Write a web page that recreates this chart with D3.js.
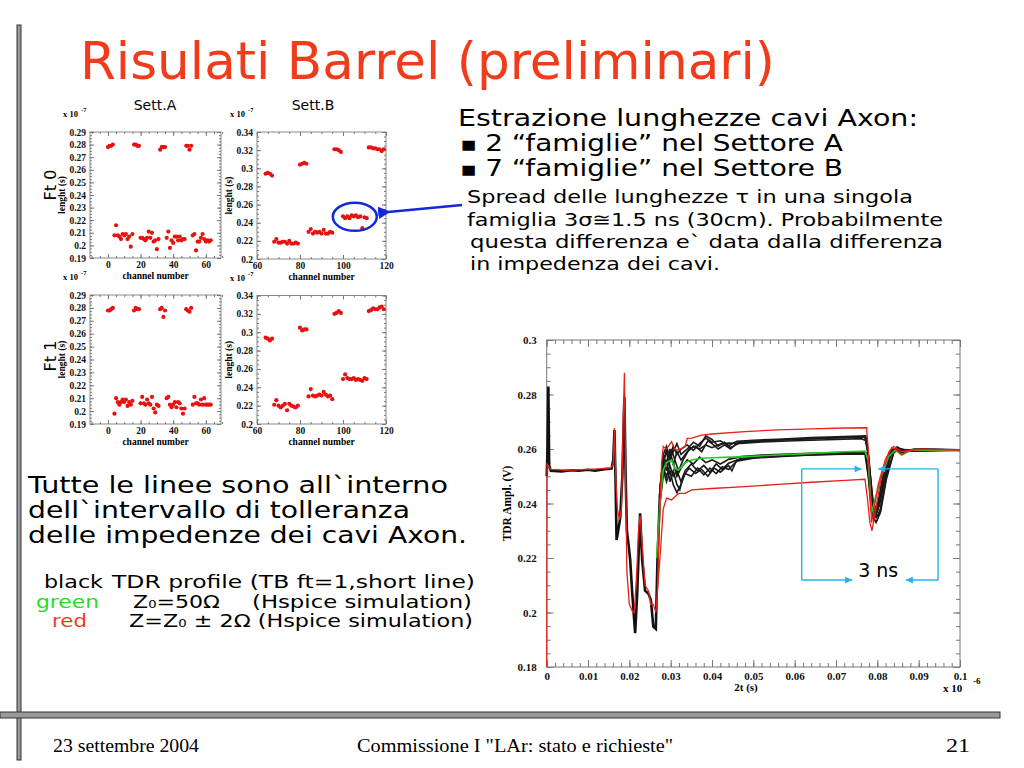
<!DOCTYPE html>
<html>
<head>
<meta charset="utf-8">
<script src="https://cdn.jsdelivr.net/npm/d3@7"></script>
<style>
  body { margin: 0; background: #fff; }
  .tick line { stroke: #777; }
  .tick text { font-family: 'Liberation Serif', serif; font-weight: bold; fill: #111; }
</style>
</head>
<body>
<svg id="svg" width="1024" height="768"></svg>
<script>
// ---- channel scans (x 10^-7 s) ----
const channelsA = d3.range(0, 64)
const channelsB = d3.range(64, 120)

const lenA_ft0 = [0.278, 0.279, 0.279, 0.280,
  0.208, 0.216, 0.208, 0.207, 0.205, 0.209, 0.208, 0.209, 0.205, 0.207, 0.199, 0.209,
  0.280, 0.280, 0.279, 0.279,
  0.206, 0.206, 0.205, 0.204, 0.206, 0.211, 0.206, 0.210, 0.203, 0.204, 0.197, 0.205,
  0.276, 0.278, 0.278, 0.278,
  0.206, 0.211, 0.198, 0.204, 0.202, 0.207, 0.207, 0.204, 0.207, 0.204, 0.205, 0.205,
  0.279, 0.279, 0.276, 0.279,
  0.208, 0.209, 0.196, 0.203, 0.203, 0.206, 0.209, 0.205, 0.203, 0.204, 0.203, 0.204]

const lenA_ft1 = [0.278, 0.278, 0.279, 0.280,
  0.198, 0.210, 0.207, 0.205, 0.207, 0.209, 0.207, 0.209, 0.204, 0.207, 0.205, 0.208,
  0.278, 0.280, 0.279, 0.279,
  0.206, 0.211, 0.206, 0.205, 0.209, 0.206, 0.205, 0.211, 0.202, 0.199, 0.205, 0.204,
  0.279, 0.280, 0.273, 0.278,
  0.210, 0.211, 0.205, 0.203, 0.205, 0.207, 0.203, 0.207, 0.206, 0.202, 0.198, 0.202,
  0.279, 0.278, 0.277, 0.280,
  0.205, 0.211, 0.206, 0.206, 0.205, 0.209, 0.205, 0.210, 0.205, 0.205, 0.205, 0.205]

const lenB_ft0 = [0.294, 0.295, 0.294, 0.292,
  0.219, 0.222, 0.218, 0.218, 0.219, 0.219, 0.217, 0.220, 0.217, 0.217, 0.218, 0.217,
  0.304, 0.305, 0.306, 0.305,
  0.230, 0.233, 0.228, 0.230, 0.229, 0.230, 0.228, 0.232, 0.228, 0.228, 0.230, 0.229,
  0.321, 0.321, 0.320, 0.318,
  0.247, 0.245, 0.247, 0.245, 0.248, 0.247, 0.248, 0.246, 0.247, 0.234, 0.246, 0.245,
  0.323, 0.323, 0.322, 0.322, 0.321, 0.321, 0.319, 0.321]

const lenB_ft1 = [0.294, 0.293, 0.291, 0.293,
  0.221, 0.226, 0.220, 0.218, 0.220, 0.222, 0.215, 0.222, 0.220, 0.219, 0.218, 0.220,
  0.305, 0.302, 0.303, 0.303,
  0.230, 0.238, 0.231, 0.230, 0.231, 0.232, 0.231, 0.235, 0.232, 0.230, 0.231, 0.227,
  0.320, 0.321, 0.323, 0.321,
  0.249, 0.254, 0.250, 0.249, 0.249, 0.250, 0.248, 0.249, 0.248, 0.247, 0.250, 0.249,
  0.323, 0.324, 0.326, 0.325, 0.325, 0.327, 0.328, 0.325]

const yTicksA = [0.19, 0.2, 0.21, 0.22, 0.23, 0.24, 0.25, 0.26, 0.27, 0.28, 0.29]
const yTicksB = [0.2, 0.22, 0.24, 0.26, 0.28, 0.3, 0.32, 0.34]
const xTicksA = [0, 20, 40, 60]
const xTicksB = [60, 80, 100, 120]

// ---- TDR profiles [2t (x 10^-6 s), ampl (V)] ----
const tdrBlackFront = [[0, 0.2500], [0.0002, 0.2600], [0.0004, 0.2829], [0.0006, 0.2540], [0.0010, 0.2520],
  [0.0036, 0.2518], [0.0060, 0.2522], [0.0077, 0.2520], [0.0100, 0.2524], [0.0117, 0.2520], [0.0140, 0.2526],
  [0.0157, 0.2528], [0.0161, 0.2560], [0.0164, 0.2670], [0.0167, 0.2450], [0.0169, 0.2266], [0.0173, 0.2300],
  [0.0178, 0.2350], [0.0183, 0.2500], [0.0188, 0.2792], [0.0191, 0.2500], [0.0194, 0.2300], [0.0198, 0.2250],
  [0.0202, 0.2193], [0.0207, 0.2070], [0.0214, 0.1924], [0.0219, 0.2070], [0.0226, 0.2364], [0.0231, 0.2193],
  [0.0238, 0.2080], [0.0246, 0.2070], [0.0252, 0.2046], [0.0258, 0.1948], [0.0264, 0.1940], [0.0268, 0.2193],
  [0.0274, 0.2437]]

const tdrBlack1 = [[0.0274, 0.2437], [0.0282, 0.2560], [0.0290, 0.2590], [0.0296, 0.2540], [0.0302, 0.2600],
  [0.0310, 0.2560], [0.0319, 0.2520], [0.0330, 0.2560], [0.0345, 0.2600], [0.0360, 0.2610], [0.0375, 0.2590],
  [0.0390, 0.2630], [0.0400, 0.2620], [0.0415, 0.2600], [0.0430, 0.2615], [0.0445, 0.2600], [0.0460, 0.2622],
  [0.0500, 0.2628], [0.0560, 0.2634], [0.0640, 0.2638], [0.0720, 0.2642], [0.0770, 0.2645], [0.0776, 0.2600],
  [0.0782, 0.2450], [0.0790, 0.2380], [0.0800, 0.2370], [0.0812, 0.2450], [0.0827, 0.2560], [0.0843, 0.2600],
  [0.0859, 0.2585], [0.0883, 0.2598], [0.0950, 0.2598], [0.1000, 0.2595]]
const tdrBlack2 = [[0.0274, 0.2420], [0.0282, 0.2540], [0.0290, 0.2600], [0.0298, 0.2570], [0.0306, 0.2610],
  [0.0315, 0.2580], [0.0325, 0.2600], [0.0340, 0.2615], [0.0355, 0.2595], [0.0370, 0.2620], [0.0385, 0.2640],
  [0.0400, 0.2625], [0.0420, 0.2630], [0.0440, 0.2612], [0.0460, 0.2628], [0.0500, 0.2632], [0.0560, 0.2636],
  [0.0640, 0.2642], [0.0720, 0.2646], [0.0772, 0.2648], [0.0780, 0.2560], [0.0788, 0.2400], [0.0796, 0.2360],
  [0.0806, 0.2400], [0.0820, 0.2520], [0.0835, 0.2595], [0.0850, 0.2605], [0.0865, 0.2588], [0.0890, 0.2600],
  [0.1000, 0.2597]]
const tdrBlack3 = [[0.0274, 0.2450], [0.0282, 0.2570], [0.0290, 0.2550], [0.0298, 0.2600], [0.0306, 0.2540],
  [0.0315, 0.2590], [0.0325, 0.2560], [0.0340, 0.2590], [0.0355, 0.2610], [0.0370, 0.2600], [0.0385, 0.2615],
  [0.0400, 0.2605], [0.0420, 0.2618], [0.0440, 0.2622], [0.0470, 0.2620], [0.0520, 0.2626], [0.0600, 0.2630],
  [0.0680, 0.2634], [0.0760, 0.2638], [0.0775, 0.2630], [0.0783, 0.2500], [0.0792, 0.2370], [0.0802, 0.2380],
  [0.0815, 0.2480], [0.0830, 0.2580], [0.0845, 0.2600], [0.0862, 0.2590], [0.0900, 0.2598], [0.1000, 0.2596]]
const tdrBlack4 = [[0.0274, 0.2400], [0.0282, 0.2500], [0.0290, 0.2560], [0.0298, 0.2480], [0.0306, 0.2520],
  [0.0315, 0.2470], [0.0322, 0.2450], [0.0330, 0.2500], [0.0345, 0.2530], [0.0360, 0.2510], [0.0375, 0.2525],
  [0.0390, 0.2500], [0.0405, 0.2530], [0.0420, 0.2515], [0.0440, 0.2540], [0.0448, 0.2520], [0.0460, 0.2560],
  [0.0500, 0.2570], [0.0560, 0.2575], [0.0640, 0.2580], [0.0720, 0.2585], [0.0775, 0.2586], [0.0782, 0.2520],
  [0.0790, 0.2400], [0.0798, 0.2350], [0.0808, 0.2380], [0.0822, 0.2500], [0.0840, 0.2590], [0.0860, 0.2598],
  [0.0890, 0.2596], [0.1000, 0.2595]]
const tdrBlack5 = [[0.0274, 0.2430], [0.0282, 0.2530], [0.0290, 0.2500], [0.0298, 0.2540], [0.0306, 0.2500],
  [0.0315, 0.2520], [0.0325, 0.2480], [0.0335, 0.2520], [0.0350, 0.2545], [0.0365, 0.2520], [0.0380, 0.2540],
  [0.0395, 0.2515], [0.0410, 0.2545], [0.0425, 0.2525], [0.0440, 0.2548], [0.0470, 0.2565], [0.0520, 0.2570],
  [0.0600, 0.2576], [0.0680, 0.2580], [0.0770, 0.2582], [0.0778, 0.2500], [0.0785, 0.2380], [0.0792, 0.2340],
  [0.0802, 0.2400], [0.0815, 0.2520], [0.0832, 0.2590], [0.0850, 0.2600], [0.0870, 0.2590], [0.0900, 0.2598],
  [0.1000, 0.2596]]
const tdrBlack6 = [[0.0274, 0.2460], [0.0282, 0.2560], [0.0290, 0.2520], [0.0298, 0.2580], [0.0306, 0.2550],
  [0.0315, 0.2500], [0.0325, 0.2530], [0.0340, 0.2560], [0.0355, 0.2545], [0.0370, 0.2570], [0.0385, 0.2550],
  [0.0400, 0.2560], [0.0420, 0.2545], [0.0440, 0.2562], [0.0470, 0.2572], [0.0520, 0.2578], [0.0600, 0.2582],
  [0.0680, 0.2586], [0.0770, 0.2590], [0.0778, 0.2540], [0.0787, 0.2420], [0.0796, 0.2380], [0.0806, 0.2430],
  [0.0820, 0.2540], [0.0838, 0.2598], [0.0855, 0.2602], [0.0875, 0.2592], [0.1000, 0.2597]]
const tdrBlack7 = [[0.0274, 0.2440], [0.0282, 0.2580], [0.0290, 0.2610], [0.0298, 0.2560], [0.0306, 0.2590],
  [0.0315, 0.2620], [0.0325, 0.2580], [0.0340, 0.2600], [0.0355, 0.2625], [0.0370, 0.2610], [0.0385, 0.2648],
  [0.0400, 0.2635], [0.0415, 0.2610], [0.0430, 0.2625], [0.0445, 0.2605], [0.0470, 0.2625], [0.0520, 0.2630],
  [0.0600, 0.2635], [0.0680, 0.2640], [0.0770, 0.2644], [0.0778, 0.2580], [0.0786, 0.2430], [0.0795, 0.2350],
  [0.0805, 0.2360], [0.0818, 0.2470], [0.0833, 0.2585], [0.0848, 0.2608], [0.0865, 0.2590], [0.0900, 0.2599],
  [0.1000, 0.2597]]
const tdrBlack8 = [[0.0274, 0.2410], [0.0282, 0.2520], [0.0290, 0.2480], [0.0298, 0.2520], [0.0306, 0.2470],
  [0.0315, 0.2440], [0.0325, 0.2470], [0.0335, 0.2510], [0.0350, 0.2500], [0.0365, 0.2530], [0.0380, 0.2505],
  [0.0395, 0.2530], [0.0410, 0.2510], [0.0425, 0.2535], [0.0440, 0.2525], [0.0460, 0.2555], [0.0500, 0.2566],
  [0.0560, 0.2572], [0.0640, 0.2578], [0.0720, 0.2582], [0.0772, 0.2584], [0.0780, 0.2480], [0.0788, 0.2360],
  [0.0797, 0.2330], [0.0808, 0.2370], [0.0822, 0.2490], [0.0840, 0.2588], [0.0858, 0.2600], [0.0880, 0.2592],
  [0.1000, 0.2596]]

const tdrRedFront = [[0, 0.18], [0.0001, 0.2545], [0.0010, 0.2525], [0.0050, 0.2522], [0.0100, 0.2525],
  [0.0155, 0.2530], [0.0161, 0.2545], [0.0164, 0.2676], [0.0167, 0.2500], [0.0171, 0.2380], [0.0176, 0.2340],
  [0.0181, 0.2380], [0.0185, 0.2700], [0.0188, 0.2880], [0.0191, 0.2500], [0.0194, 0.2150], [0.0200, 0.2030],
  [0.0207, 0.2005], [0.0212, 0.2000], [0.0218, 0.2150], [0.0222, 0.2300], [0.0226, 0.2355], [0.0231, 0.2250],
  [0.0238, 0.2100], [0.0246, 0.2080], [0.0252, 0.2030], [0.0258, 0.2030], [0.0264, 0.2000], [0.0268, 0.2080]]
const tdrRedHigh = [[0.0268, 0.2080], [0.0272, 0.2300], [0.0278, 0.2550], [0.0282, 0.2609], [0.0290, 0.2600],
  [0.0302, 0.2627], [0.0310, 0.2600], [0.0319, 0.2596], [0.0335, 0.2609], [0.0340, 0.2639], [0.0351, 0.2640],
  [0.0375, 0.2651], [0.0399, 0.2655], [0.0480, 0.2664], [0.0560, 0.2670], [0.0641, 0.2674], [0.0722, 0.2677],
  [0.0774, 0.2678], [0.0778, 0.2600], [0.0782, 0.2450], [0.0786, 0.2330], [0.0790, 0.2360], [0.0802, 0.2470],
  [0.0819, 0.2560], [0.0835, 0.2606], [0.0843, 0.2600], [0.0859, 0.2580], [0.0870, 0.2590], [0.0883, 0.2595],
  [0.0899, 0.2600], [0.0950, 0.2598], [0.1000, 0.2598]]
const tdrRedLow = [[0.0268, 0.2080], [0.0274, 0.2200], [0.0282, 0.2380], [0.0290, 0.2420], [0.0302, 0.2413],
  [0.0319, 0.2437], [0.0335, 0.2437], [0.0351, 0.2450], [0.0399, 0.2455], [0.0480, 0.2462], [0.0560, 0.2470],
  [0.0641, 0.2478], [0.0722, 0.2485], [0.0770, 0.2489], [0.0776, 0.2420], [0.0782, 0.2330], [0.0787, 0.2300],
  [0.0794, 0.2360], [0.0810, 0.2500], [0.0828, 0.2590], [0.0840, 0.2610], [0.0859, 0.2590], [0.0883, 0.2598],
  [0.0950, 0.2598], [0.1000, 0.2596]]
const tdrGreen = [[0.0266, 0.2200], [0.0274, 0.2400], [0.0282, 0.2523], [0.0290, 0.2550], [0.0302, 0.2560],
  [0.0310, 0.2530], [0.0319, 0.2523], [0.0335, 0.2550], [0.0351, 0.2560], [0.0375, 0.2566], [0.0399, 0.2568],
  [0.0480, 0.2572], [0.0560, 0.2578], [0.0641, 0.2584], [0.0722, 0.2590], [0.0770, 0.2592], [0.0778, 0.2560],
  [0.0786, 0.2364], [0.0794, 0.2413], [0.0810, 0.2500], [0.0827, 0.2572], [0.0843, 0.2596], [0.0859, 0.2578],
  [0.0883, 0.2596], [0.1000, 0.2596]]

const tdrXTicks = [0, 0.01, 0.02, 0.03, 0.04, 0.05, 0.06, 0.07, 0.08, 0.09, 0.1]
const tdrYTicks = [0.18, 0.2, 0.22, 0.24, 0.26, 0.28, 0.3]

const sans = "'DejaVu Sans', Verdana, sans-serif"
const serif = "'Liberation Serif', 'Times New Roman', serif"
const red = '#f03c1a'

const svg = d3.select('#svg')

// slide frame bars
svg.append('rect').attr('x', 17).attr('y', 25).attr('width', 4).attr('height', 735)
  .attr('fill', '#999').attr('stroke', '#333').attr('stroke-width', 1)
svg.append('rect').attr('x', 0).attr('y', 712).attr('width', 1000).attr('height', 6)
  .attr('fill', '#999').attr('stroke', '#333').attr('stroke-width', 1)

const text = (x, y, str, opts = {}) => {
  const t = svg.append('text').attr('x', x).attr('y', y)
    .attr('font-family', opts.family || sans)
    .attr('font-size', opts.size || 24)
    .attr('fill', opts.fill || '#000')
    .attr('font-weight', opts.weight || 'normal')
    .attr('text-anchor', opts.anchor || 'start')
    .text(str)
  if (opts.len) t.attr('textLength', opts.len).attr('lengthAdjust', 'spacingAndGlyphs')
  return t
}

text(80, 79, 'Risulati Barrel (preliminari)', { size: 52, fill: red, len: 695 })

// ---- small channel panels ----
const drawPanel = (p) => {
  const x = d3.scaleLinear().domain(p.xDomain).range([p.left, p.left + p.width])
  const y = d3.scaleLinear().domain(p.yDomain).range([p.top + p.height, p.top])
  const g = svg.append('g')

  g.append('rect').attr('x', p.left).attr('y', p.top).attr('width', p.width).attr('height', p.height)
    .attr('fill', 'none').attr('stroke', '#888')

  const minorX = d3.range(p.xDomain[0], p.xDomain[1], p.xMinor).map(v => Math.ceil(v / p.xMinor) * p.xMinor)
  const minorY = d3.range(Math.ceil(p.yDomain[0] / p.yMinor), Math.floor(p.yDomain[1] / p.yMinor) + 1).map(k => k * p.yMinor)

  const axes = [
    [d3.axisLeft(y).tickValues(p.yTicks).tickSize(-4).tickPadding(4).tickFormat(d => String(d)), `translate(${p.left},0)`],
    [d3.axisLeft(y).tickValues(minorY).tickSize(-2).tickFormat(''), `translate(${p.left},0)`],
    [d3.axisRight(y).tickValues(p.yTicks).tickSize(-4).tickFormat(''), `translate(${p.left + p.width},0)`],
    [d3.axisRight(y).tickValues(minorY).tickSize(-2).tickFormat(''), `translate(${p.left + p.width},0)`],
    [d3.axisBottom(x).tickValues(p.xTicks).tickSize(-4).tickPadding(3).tickFormat(d => String(d)), `translate(0,${p.top + p.height})`],
    [d3.axisBottom(x).tickValues(minorX).tickSize(-2).tickFormat(''), `translate(0,${p.top + p.height})`],
    [d3.axisTop(x).tickValues(p.xTicks).tickSize(-4).tickFormat(''), `translate(0,${p.top})`],
    [d3.axisTop(x).tickValues(minorX).tickSize(-2).tickFormat(''), `translate(0,${p.top})`]
  ]
  axes.forEach(([ax, tr]) => {
    const a = g.append('g').attr('transform', tr).call(ax)
    a.select('.domain').remove()
    a.selectAll('text').attr('font-size', 9.5)
  })

  g.selectAll('circle.pt')
    .data(p.values)
    .enter()
    .append('circle')
    .attr('class', 'pt')
    .attr('cx', (d, i) => x(p.channels[i]))
    .attr('cy', d => y(d))
    .attr('r', 2.1)
    .attr('fill', '#e81010')

  // exponent and axis titles
  text(p.left - 27, p.top - 15, 'x 10', { family: serif, weight: 'bold', size: 8.5 })
  text(p.left - 9, p.top - 20, '-7', { family: serif, weight: 'bold', size: 6.5 })
  text(p.left + p.width / 2, p.top + p.height + 21, 'channel number', { family: serif, weight: 'bold', size: 9.5, anchor: 'middle' })
  const cy = p.top + p.height / 2
  svg.append('text')
    .attr('transform', `translate(${p.left - 25},${cy}) rotate(-90)`)
    .attr('text-anchor', 'middle')
    .attr('font-family', serif).attr('font-weight', 'bold').attr('font-size', 9.5)
    .text('lenght (s)')
  return { x, y }
}

drawPanel({ left: 90, top: 132, width: 131, height: 126, xDomain: [-11, 69.3], yDomain: [0.19, 0.29],
  xTicks: xTicksA, yTicks: yTicksA, xMinor: 5, yMinor: 0.0025, channels: channelsA, values: lenA_ft0 })
const panelB0 = drawPanel({ left: 257, top: 132, width: 129, height: 127, xDomain: [60, 120], yDomain: [0.2, 0.34],
  xTicks: xTicksB, yTicks: yTicksB, xMinor: 5, yMinor: 0.005, channels: channelsB, values: lenB_ft0 })
drawPanel({ left: 90, top: 295, width: 131, height: 129, xDomain: [-11, 69.3], yDomain: [0.19, 0.29],
  xTicks: xTicksA, yTicks: yTicksA, xMinor: 5, yMinor: 0.0025, channels: channelsA, values: lenA_ft1 })
drawPanel({ left: 257, top: 295.5, width: 129, height: 128.5, xDomain: [60, 120], yDomain: [0.2, 0.34],
  xTicks: xTicksB, yTicks: yTicksB, xMinor: 5, yMinor: 0.005, channels: channelsB, values: lenB_ft1 })

text(155, 110, 'Sett.A', { size: 14, anchor: 'middle' })
text(313, 110, 'Sett.B', { size: 14, anchor: 'middle' })
svg.append('text').attr('transform', 'translate(56,185) rotate(-90)').attr('text-anchor', 'middle')
  .attr('font-family', sans).attr('font-size', 16).text('Ft 0')
svg.append('text').attr('transform', 'translate(56,356) rotate(-90)').attr('text-anchor', 'middle')
  .attr('font-family', sans).attr('font-size', 16).text('Ft 1')

// circled family + arrow
svg.append('ellipse')
  .attr('cx', panelB0.x(105.5)).attr('cy', panelB0.y(0.2465))
  .attr('rx', 22).attr('ry', 14)
  .attr('fill', 'none').attr('stroke', '#1428d8').attr('stroke-width', 2.5)
svg.append('defs').append('marker').attr('id', 'bluehead')
  .attr('viewBox', '0 0 10 10').attr('refX', 2).attr('refY', 5)
  .attr('markerWidth', 5).attr('markerHeight', 5).attr('orient', 'auto')
  .append('path').attr('d', 'M10,0 L0,5 L10,10 z').attr('fill', '#1428d8')
svg.append('line')
  .attr('x1', 462).attr('y1', 205).attr('x2', panelB0.x(121)).attr('y2', 212)
  .attr('stroke', '#1428d8').attr('stroke-width', 2.5).attr('marker-end', 'url(#bluehead)')

// ---- right text block ----
const bullet = (y, str) => {
  const t = text(461, y, '', { size: 22.5 })
  t.append('tspan').attr('font-size', 13).attr('dy', -2).text('■')
  t.append('tspan').attr('dy', 2).text(' ' + str)
  t.attr('textLength', 382).attr('lengthAdjust', 'spacingAndGlyphs')
}
text(458, 126, 'Estrazione lunghezze cavi Axon:', { size: 22.5, len: 460 })
bullet(151, '2 “famiglie” nel Settore A')
bullet(176, '7 “famiglie” nel Settore B')
text(467, 203, 'Spread delle lunghezze τ in una singola', { size: 18, len: 446 })
text(467, 226, 'famiglia 3σ≅1.5 ns (30cm). Probabilmente', { size: 18, len: 476 })
text(470, 248, 'questa differenza e`  data dalla differenza', { size: 18, len: 473 })
text(470, 270, 'in impedenza dei cavi.', { size: 18, len: 250 })

// ---- left text block ----
text(28, 493, 'Tutte le linee sono all`interno', { size: 23, len: 420 })
text(28, 518, 'dell`intervallo di tolleranza', { size: 23, len: 382 })
text(28, 543, 'delle impedenze dei cavi Axon.', { size: 23, len: 439 })

text(44, 588, 'black', { size: 18.5, len: 59 })
text(112, 588, 'TDR profile (TB ft=1,short line)', { size: 18.5, len: 363 })
text(36, 608, 'green', { size: 18.5, len: 63, fill: '#22dd22' })
const z0 = text(133, 608, 'Z', { size: 18.5 })
z0.append('tspan').attr('font-size', 11).text('0')
z0.append('tspan').text('=50Ω')
z0.attr('textLength', 87).attr('lengthAdjust', 'spacingAndGlyphs')
text(252, 608, '(Hspice simulation)', { size: 18.5, len: 220 })
text(52, 627, 'red', { size: 18.5, len: 35, fill: red })
const zr = text(129, 627, 'Z=Z', { size: 18.5 })
zr.append('tspan').attr('font-size', 11).text('0')
zr.append('tspan').text(' ± 2Ω (Hspice simulation)')
zr.attr('textLength', 344).attr('lengthAdjust', 'spacingAndGlyphs')

// ---- TDR chart ----
const tdr = { left: 546.7, right: 960, top: 340, bottom: 667 }
const xT = d3.scaleLinear().domain([0, 0.1]).range([tdr.left, tdr.right])
const yT = d3.scaleLinear().domain([0.18, 0.3]).range([tdr.bottom, tdr.top])

svg.append('rect').attr('x', tdr.left).attr('y', tdr.top)
  .attr('width', tdr.right - tdr.left).attr('height', tdr.bottom - tdr.top)
  .attr('fill', 'none').attr('stroke', '#777')

const tMinorX = d3.range(0, 101, 2).map(k => k / 1000)
const tMinorY = d3.range(36, 61).map(k => k / 200)
const tAxes = [
  [d3.axisLeft(yT).tickValues(tdrYTicks).tickSize(-7).tickPadding(10).tickFormat(d => String(d)), `translate(${tdr.left},0)`],
  [d3.axisLeft(yT).tickValues(tMinorY).tickSize(-4).tickFormat(''), `translate(${tdr.left},0)`],
  [d3.axisRight(yT).tickValues(tdrYTicks).tickSize(-7).tickFormat(''), `translate(${tdr.right},0)`],
  [d3.axisRight(yT).tickValues(tMinorY).tickSize(-4).tickFormat(''), `translate(${tdr.right},0)`],
  [d3.axisBottom(xT).tickValues(tdrXTicks).tickSize(-7).tickPadding(5).tickFormat(d => String(d)), `translate(0,${tdr.bottom})`],
  [d3.axisBottom(xT).tickValues(tMinorX).tickSize(-4).tickFormat(''), `translate(0,${tdr.bottom})`],
  [d3.axisTop(xT).tickValues(tdrXTicks).tickSize(-7).tickFormat(''), `translate(0,${tdr.top})`],
  [d3.axisTop(xT).tickValues(tMinorX).tickSize(-4).tickFormat(''), `translate(0,${tdr.top})`]
]
tAxes.forEach(([ax, tr]) => {
  const a = svg.append('g').attr('transform', tr).call(ax)
  a.select('.domain').remove()
  a.selectAll('text').attr('font-size', 11)
})

const line = d3.line().x(d => xT(d[0])).y(d => yT(d[1]))
const plot = svg.append('g')
const blackTails = [tdrBlack1, tdrBlack2, tdrBlack3, tdrBlack4, tdrBlack5, tdrBlack6, tdrBlack7, tdrBlack8]
plot.append('path').datum(tdrBlackFront).attr('d', line)
  .attr('fill', 'none').attr('stroke', '#111').attr('stroke-width', 2.6)
plot.selectAll('path.black')
  .data(blackTails)
  .enter()
  .append('path')
  .attr('class', 'black')
  .attr('d', line)
  .attr('fill', 'none').attr('stroke', '#1a1a1a').attr('stroke-width', 1.6)
plot.append('path').datum(tdrGreen).attr('d', line)
  .attr('fill', 'none').attr('stroke', '#22cc22').attr('stroke-width', 1.6)
;[tdrRedFront, tdrRedHigh, tdrRedLow].forEach(s => {
  plot.append('path').datum(s).attr('d', line)
    .attr('fill', 'none').attr('stroke', '#e8201a').attr('stroke-width', 1.3)
})

svg.append('text')
  .attr('transform', `translate(511,${(tdr.top + tdr.bottom) / 2}) rotate(-90)`)
  .attr('text-anchor', 'middle').attr('font-family', serif).attr('font-weight', 'bold').attr('font-size', 11.5)
  .text('TDR Ampl. (V)')
text(746, 691, '2t (s)', { family: serif, weight: 'bold', size: 11, anchor: 'middle' })
text(943, 692, 'x 10', { family: serif, weight: 'bold', size: 11 })
text(973, 684, '-6', { family: serif, weight: 'bold', size: 9 })

// 3 ns bracket
const cyan = '#22b4ea'
svg.append('defs').append('marker').attr('id', 'cyanhead')
  .attr('viewBox', '0 0 10 10').attr('refX', 10).attr('refY', 5)
  .attr('markerWidth', 6).attr('markerHeight', 5).attr('orient', 'auto')
  .append('path').attr('d', 'M0,0 L10,5 L0,10 z').attr('fill', cyan)
const bx0 = xT(0.0617), bx1 = xT(0.0947), by0 = yT(0.2527), by1 = yT(0.2119)
const seg = (x1, y1, x2, y2, head) => svg.append('line')
  .attr('x1', x1).attr('y1', y1).attr('x2', x2).attr('y2', y2)
  .attr('stroke', cyan).attr('stroke-width', 1.4)
  .attr('marker-end', head ? 'url(#cyanhead)' : null)
seg(bx0, by0, bx0, by1)
seg(bx1, by0, bx1, by1)
seg(bx0, by0, xT(0.0762), by0, true)
seg(bx1, by0, xT(0.0802), by0, true)
seg(bx0, by1, xT(0.0739), by1, true)
seg(bx1, by1, xT(0.0869), by1, true)
text(xT(0.0802), 577, '3 ns', { size: 19, anchor: 'middle' })

// ---- footer ----
text(53, 752, '23 settembre 2004', { family: serif, size: 19, len: 146 })
text(357, 752, 'Commissione I "LAr: stato e richieste"', { family: serif, size: 19, len: 316 })
text(946, 752, '21', { family: serif, size: 19, len: 24 })
</script>
</body>
</html>
